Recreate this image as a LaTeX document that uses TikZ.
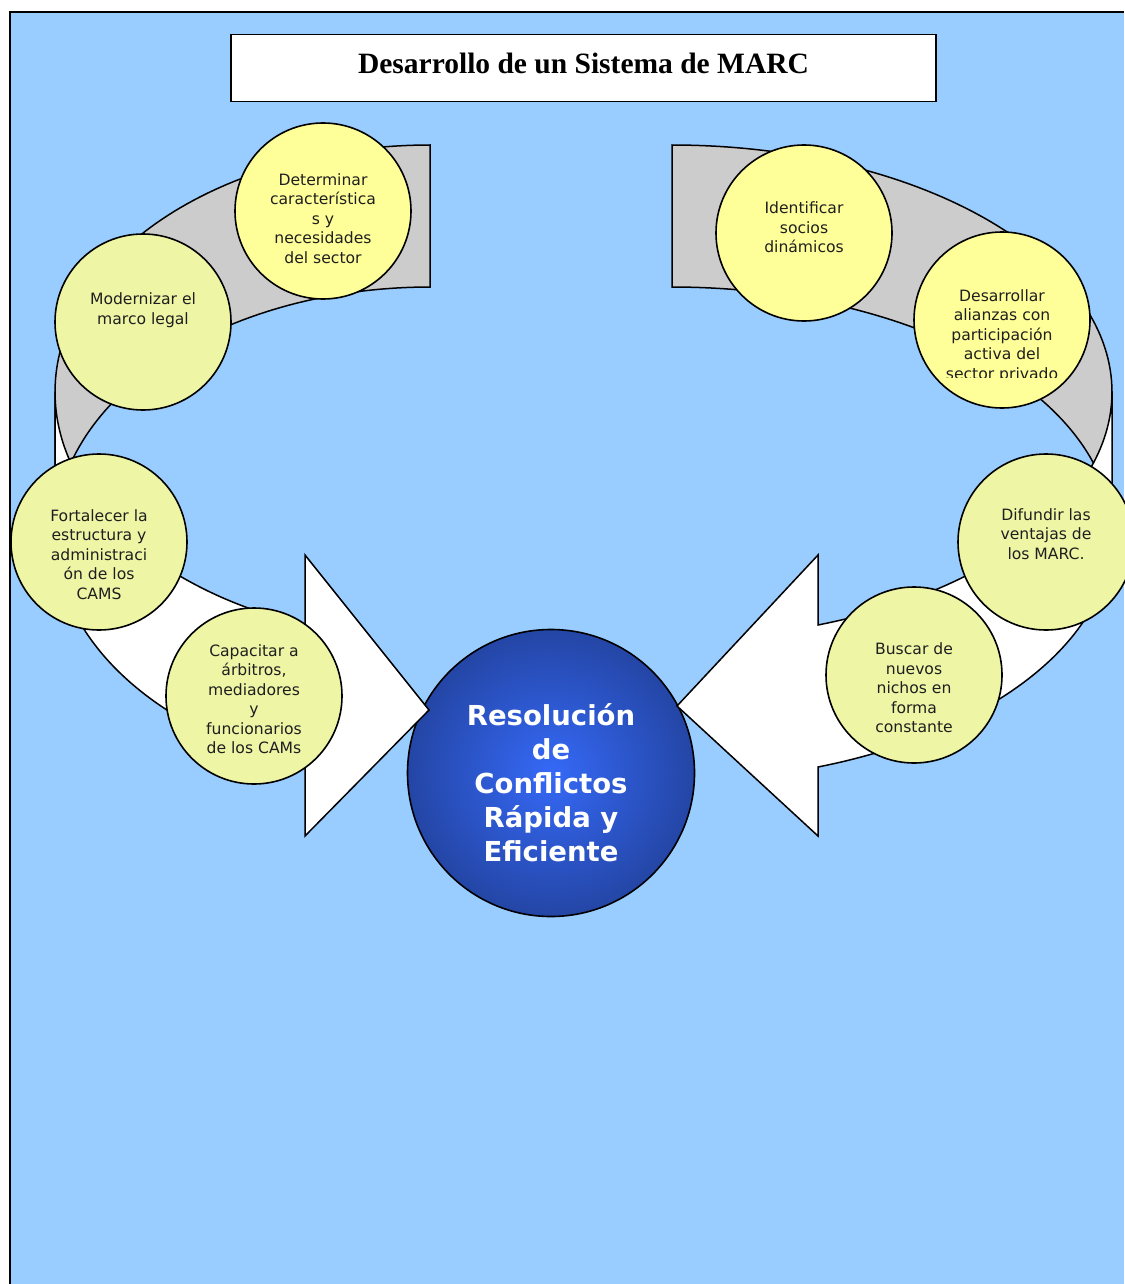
\documentclass[tikz,border=0pt]{standalone}
\usepackage{fontspec}
\setmainfont{DejaVu Sans}
\newfontfamily\titlefont{Liberation Serif}
\definecolor{bgblue}{HTML}{99CCFF}
\definecolor{ylw}{HTML}{FFFF99}
\definecolor{lime}{HTML}{EEF6A6}
\definecolor{bandgray}{HTML}{CCCCCC}
\definecolor{cin}{HTML}{3569F7}
\definecolor{cmid}{HTML}{2344A2}
\definecolor{cout}{HTML}{182B68}
\pgfdeclareradialshading{ctrshade}{\pgfpoint{0bp}{0bp}}{color(0bp)=(cin); color(26bp)=(cmid); color(50bp)=(cout)}
\tikzset{
  circ/.style={circle, draw=black, line width=1.6pt, minimum size=176pt, inner sep=0pt},
  ctext/.style={anchor=north, align=center, inner sep=0pt, text=black!88, font=\fontsize{15.6}{19.5}\selectfont},
  bandline/.style={draw=black, line width=1.5pt, line join=miter},
}
\begin{document}
\begin{tikzpicture}[x=1pt,y=-1pt]
\useasboundingbox (0,0) rectangle (1124,1284);
% background and frame
\fill[white] (0,0) rectangle (1124,1284);
\fill[bgblue] (10,12) rectangle (1124,1284);
\draw[line width=2pt] (10,1284) -- (10,12) -- (1124,12);
% title
\node[draw=black, fill=white, line width=1.5pt, minimum width=705pt, minimum height=67pt, inner sep=0pt] (title) at (583.5,68) {};
\node[anchor=base, inner sep=0pt, font=\titlefont\bfseries\fontsize{29.5}{34}\selectfont] (titletext) at (583.5,74) {Desarrollo de un Sistema de MARC};
% central circle
\node[circle, draw=black, line width=1.6pt, minimum size=287pt, inner sep=0pt, shading=ctrshade] (ctr) at (551,773) {};
% left curved arrow: back (gray) part
\path[bandline, fill=bandgray]
  plot[domain=90:180, samples=70] ({430+375*cos(\x)},{392-247*sin(\x)})
  -- (55,534)
  -- plot[domain=180:90, samples=70] ({430+375*cos(\x)},{534-247*sin(\x)})
  -- cycle;
% left curved arrow: front (white) part
\path[bandline, fill=white]
  (55,392) -- (55,534)
  -- plot[domain=180:250.53, samples=60] ({430+375*cos(\x)},{534-247*sin(\x)})
  -- (305,836) -- (429,710) -- (305,555)
  -- plot[domain=250.53:180, samples=60] ({430+375*cos(\x)},{392-247*sin(\x)})
  -- cycle;
% right curved arrow: back (gray) part
\path[bandline, fill=bandgray]
  plot[domain=90:180, samples=70] ({672-440*cos(\x)},{392-247*sin(\x)})
  -- (1112,534)
  -- plot[domain=180:90, samples=70] ({672-440*cos(\x)},{534-247*sin(\x)})
  -- cycle;
% right curved arrow: front (white) part
\path[bandline, fill=white]
  (1112,392) -- (1112,534)
  -- plot[domain=180:250.62, samples=60] ({672-440*cos(\x)},{534-247*sin(\x)})
  -- (818,836) -- (677,706) -- (818,555)
  -- plot[domain=250.62:180, samples=60] ({672-440*cos(\x)},{392-247*sin(\x)})
  -- cycle;
% small circles
\node[circ, fill=ylw]  (c1) at (323,211) {};
\node[circ, fill=lime] (c2) at (143,322) {};
\node[circ, fill=lime] (c3) at (99,542) {};
\node[circ, fill=lime] (c4) at (254,696) {};
\node[circ, fill=ylw]  (c5) at (804,233) {};
\node[circ, fill=ylw]  (c6) at (1002,320) {};
\node[circ, fill=lime] (c7) at (1046,542) {};
\node[circ, fill=lime] (c8) at (914,675) {};
% texts
\node[ctext] (t1) at (323,173) {Determinar\\característica\\s y\\necesidades\\del sector};
\node[ctext] (t2) at (143,292.5) {Modernizar el\\marco legal};
\node[ctext] (t3) at (99,509) {Fortalecer la\\estructura y\\administraci\\ón de los\\CAMS};
\node[ctext] (t4) at (254,644) {Capacitar a\\árbitros,\\mediadores\\y\\funcionarios\\de los CAMs};
\node[ctext] (t5) at (804,201.5) {Identificar\\socios\\dinámicos};
\begin{scope}
\clip (880,230) rectangle (1124,377);
\node[ctext] (t6) at (1002,289) {Desarrollar\\alianzas con\\participación\\activa del\\sector privado};
\end{scope}
\node[ctext] (t7) at (1046,508) {Difundir las\\ventajas de\\los MARC.};
\node[ctext] (t8) at (914,642.5) {Buscar de\\nuevos\\nichos en\\forma\\constante};
\node[anchor=south, align=center, inner sep=0pt, text=white, font=\bfseries\fontsize{27.5}{34}\selectfont] (ctrtext) at (551,862) {Resolución\\de\\Conflictos\\Rápida y\\Eficiente};
\end{tikzpicture}
\end{document}
